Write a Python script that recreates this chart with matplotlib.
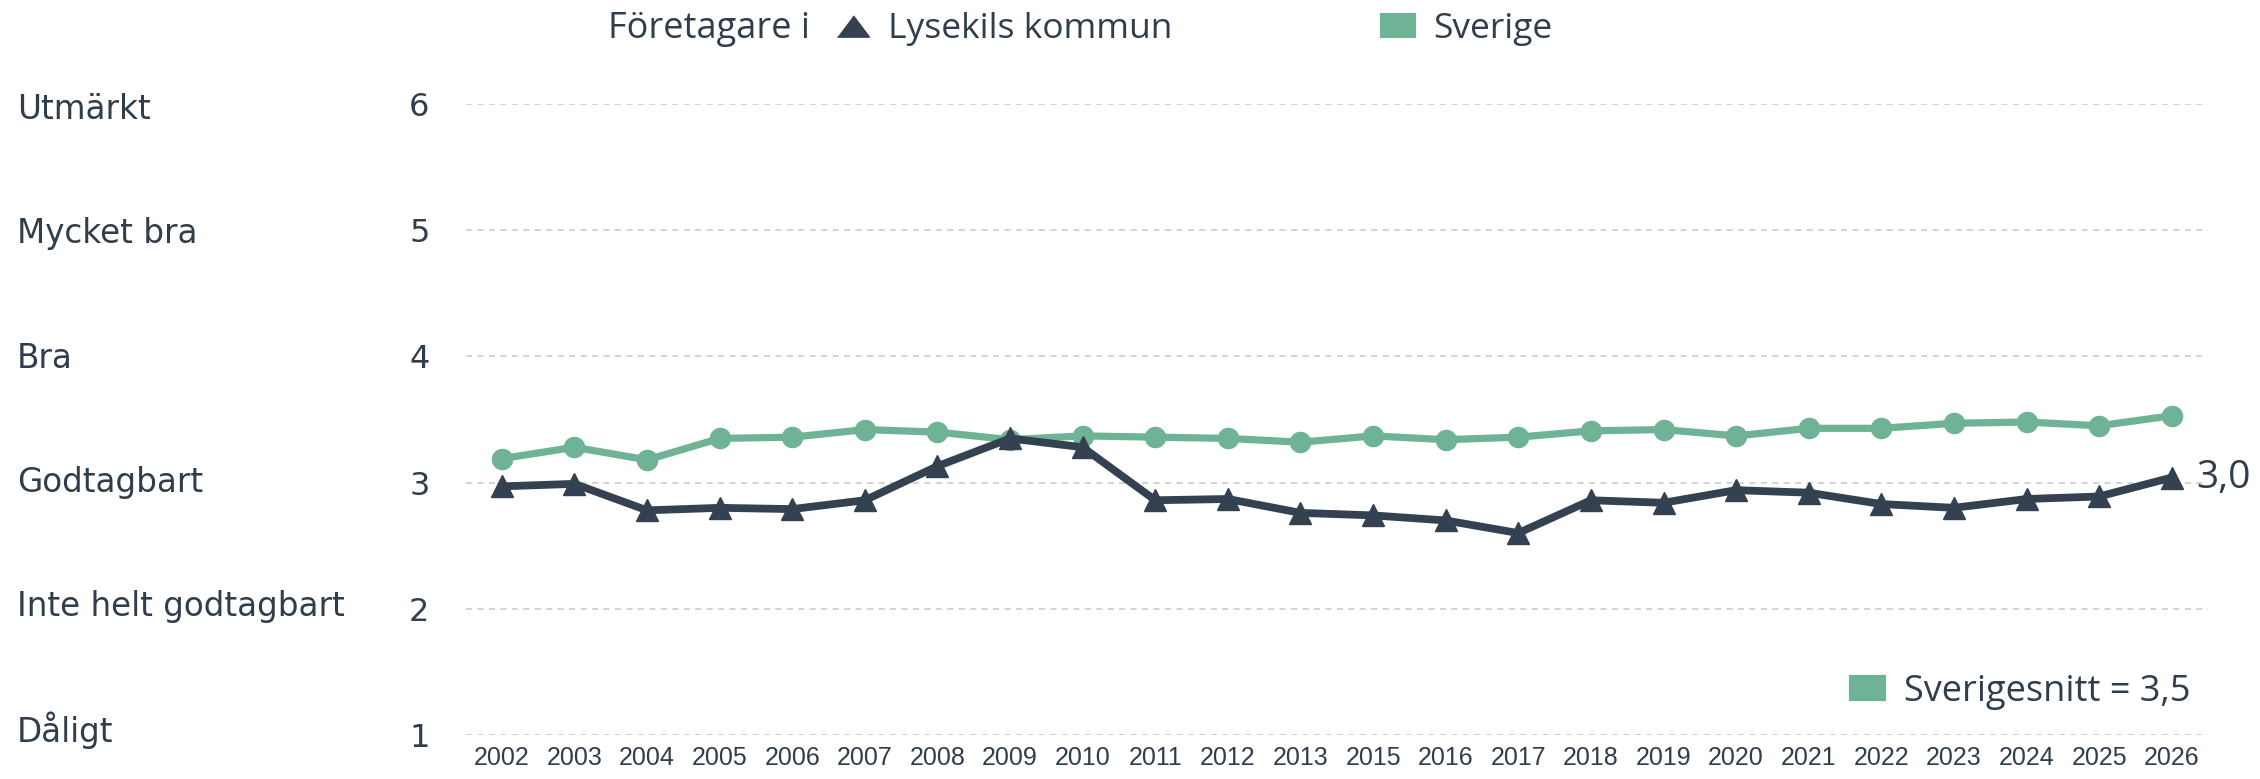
import matplotlib.pyplot as plt
from matplotlib.lines import Line2D
from matplotlib.patches import Patch
from matplotlib.transforms import blended_transform_factory
import numpy as np

years = ['2002', '2003', '2004', '2005', '2006', '2007', '2008', '2009', '2010', '2011',
         '2012', '2013', '2015', '2016', '2017', '2018', '2019', '2020', '2021', '2022',
         '2023', '2024', '2025', '2026']
lysekil = [2.97, 2.99, 2.78, 2.80, 2.79, 2.86, 3.13, 3.35, 3.28, 2.86,
           2.87, 2.76, 2.74, 2.70, 2.60, 2.86, 2.84, 2.94, 2.92, 2.83,
           2.80, 2.87, 2.89, 3.04]
sverige = [3.19, 3.28, 3.18, 3.35, 3.36, 3.42, 3.40, 3.34, 3.37, 3.36,
           3.35, 3.32, 3.37, 3.34, 3.36, 3.41, 3.42, 3.37, 3.43, 3.43,
           3.47, 3.48, 3.45, 3.53]
betyg = ['Dåligt', 'Inte helt godtagbart', 'Godtagbart', 'Bra', 'Mycket bra', 'Utmärkt']
skala = [1, 2, 3, 4, 5, 6]
sverigesnitt = '3,5'
sista_varde = '3,0'

dark = '#334150'
green = '#6fb396'
txt = '#2f3d4c'

fig = plt.figure(figsize=(22.6, 7.79), dpi=100)
ax = fig.add_axes([0.206, 0.0565, 0.771, 0.81])

x = np.arange(len(years))
ax.plot(x, sverige, color=green, lw=5.2, marker='o', ms=14.5, zorder=3, clip_on=False)
ax.plot(x, lysekil, color=dark, lw=5.6, marker='^', ms=15.5, zorder=4, clip_on=False)

ax.set_xlim(-0.5, len(years) - 0.5)
ax.set_ylim(1, 6)
ax.set_yticks(skala)
ax.set_yticklabels([str(v) for v in skala], fontsize=23, color=txt, family='DejaVu Sans')
ax.tick_params(axis='y', length=0, pad=26)
ax.set_xticks(x)
ax.set_xticklabels(years, fontsize=18, color=txt, family='Liberation Sans')
ax.tick_params(axis='x', length=0, pad=8)
ax.grid(axis='y', color='#c8c8c8', ls=(0, (4, 3.5)), lw=1.1)
for s in ax.spines.values():
    s.set_visible(False)

# the grade labels sit a touch tighter than the grid lines
trans = blended_transform_factory(fig.transFigure, ax.transData)
for v, lab in zip(skala, betyg):
    ax.text(17 / 2260, 1.035 + (v - 1) * 0.984, lab, transform=trans, fontsize=23.5,
            color=txt, va='center', ha='left', family='DejaVu Sans')

ax.annotate(sista_varde, (x[-1], lysekil[-1]), xytext=(18, 0), textcoords='offset points',
            fontsize=28, color=txt, va='center', ha='left', family='Open Sans')

# legend at the top
fig.text(608 / 2260, 1 - 29 / 779, 'Företagare i', fontsize=26, color=txt, va='center',
         ha='left', family='Open Sans')
tri = [(-1.5, -1), (1.5, -1), (0, 1)]
h1 = Line2D([], [], color=dark, marker=tri, ls='none', ms=23)
h2 = Patch(facecolor=green, edgecolor=green, lw=3, joinstyle='round')
fig.legend([h1, h2], ['Lysekils kommun', 'Sverige'], ncol=2, frameon=False,
           loc='center left', bbox_to_anchor=(837 / 2260, 1 - 29 / 779),
           prop={'family': 'Open Sans', 'size': 25.5}, labelcolor=txt,
           handlelength=0.9, handleheight=0.55, handletextpad=0.55,
           columnspacing=5.9, borderaxespad=0, borderpad=0)

# legend at the bottom right
h3 = Patch(facecolor=green, edgecolor=green, lw=3, joinstyle='round')
ax.legend([h3], ['Sverigesnitt = ' + sverigesnitt], frameon=False, loc='center right',
          bbox_to_anchor=(2190 / 2260, 1 - 692 / 779), bbox_transform=fig.transFigure,
          prop={'family': 'Open Sans', 'size': 26}, labelcolor=txt,
          handlelength=0.9, handleheight=0.55, handletextpad=0.55,
          borderaxespad=0, borderpad=0)

fig.savefig('out.png', dpi=100)
